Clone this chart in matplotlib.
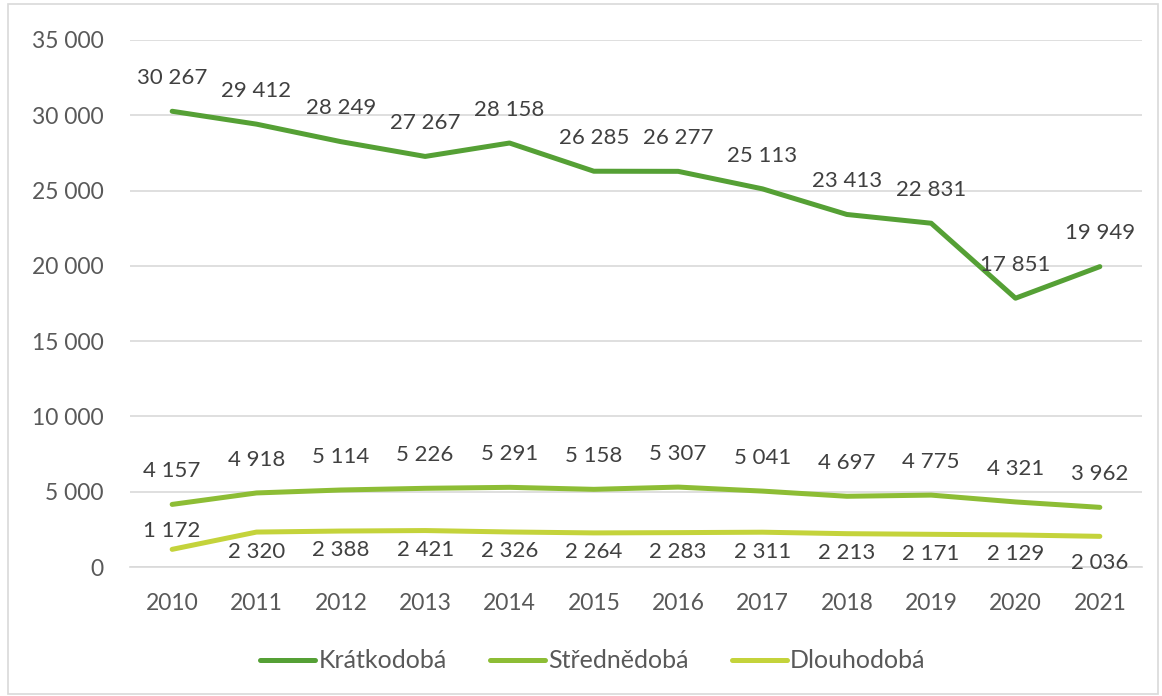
import matplotlib
matplotlib.use("Agg")
import matplotlib.pyplot as plt
from matplotlib.ticker import FuncFormatter

years = [str(y) for y in range(2010, 2022)]
kratkodoba = [30267, 29412, 28249, 27267, 28158, 26285, 26277, 25113, 23413, 22831, 17851, 19949]
strednedoba = [4157, 4918, 5114, 5226, 5291, 5158, 5307, 5041, 4697, 4775, 4321, 3962]
dlouhodoba = [1172, 2320, 2388, 2421, 2326, 2264, 2283, 2311, 2213, 2171, 2129, 2036]
series_names = ["Krátkodobá", "Střednědobá", "Dlouhodobá"]
colors = ["#55a035", "#8dbd35", "#c4d33b"]

plt.rcParams['font.family'] = ['Lato', 'DejaVu Sans']

def fmt(v):
    return f"{int(v):,}".replace(",", " ")

fig = plt.figure(figsize=(11.62, 6.96), dpi=100)
ax = fig.add_axes([130/1162, 1-567/696, (1142-130)/1162, (567-40)/696])

x = list(range(len(years)))
lines = []
for vals, c, name in zip([kratkodoba, strednedoba, dlouhodoba], colors, series_names):
    l, = ax.plot(x, vals, color=c, lw=3.6, solid_capstyle='round', label=name)
    lines.append(l)

txtc = "#404040"
lab_fs = 16
for i, v in enumerate(kratkodoba):
    ax.annotate(fmt(v), (i, v), xytext=(0, 24), textcoords='offset points',
                ha='center', va='center', fontsize=lab_fs, color=txtc)
for i, v in enumerate(strednedoba):
    ax.annotate(fmt(v), (i, v), xytext=(0, 24), textcoords='offset points',
                ha='center', va='center', fontsize=lab_fs, color=txtc)
for i, v in enumerate(dlouhodoba):
    if i == 0:
        dy = 13
    elif i == len(dlouhodoba) - 1:
        dy = -19
    else:
        dy = -14
    ax.annotate(fmt(v), (i, v), xytext=(0, dy), textcoords='offset points',
                ha='center', va='center', fontsize=lab_fs, color=txtc)

ax.set_xlim(-0.5, len(years) - 0.5)
ax.set_ylim(0, 35000)
ax.set_yticks(range(0, 35001, 5000))
ax.yaxis.set_major_formatter(FuncFormatter(lambda v, p: fmt(v)))
ax.set_xticks(x)
ax.set_xticklabels(years)
ax.tick_params(axis='both', length=0, labelsize=16.5, labelcolor="#595959")
ax.tick_params(axis='y', pad=19)
ax.tick_params(axis='x', pad=19)
ax.grid(axis='y', color="#d9d9d9", lw=1.2)
ax.set_axisbelow(True)
for s in ['top', 'right', 'left']:
    ax.spines[s].set_visible(False)
ax.spines['bottom'].set_color("#d9d9d9")
ax.spines['bottom'].set_linewidth(1.2)

fig.legend(handles=lines, loc='center', bbox_to_anchor=(593/1162, 1-661/696), ncol=3,
           frameon=False, fontsize=18, handlelength=2.2, columnspacing=1.7,
           handletextpad=0.15, labelcolor="#595959")

fig.patches.append(plt.Rectangle((8/1162, 2/696), 1150/1162, 690/696, transform=fig.transFigure,
                                 fill=False, edgecolor="#d9d9d9", lw=1.2))

fig.savefig("out.png", dpi=100)
